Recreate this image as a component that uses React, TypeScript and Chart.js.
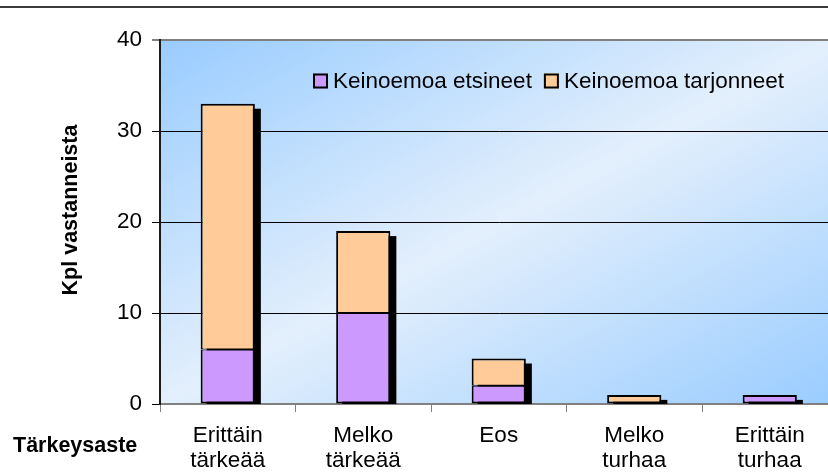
import React, { useEffect, useRef } from "react";
import { Chart, registerables } from "chart.js";

Chart.register(...registerables);

// ---- data ----
const categories: string[][] = [
  ["Erittäin", "tärkeää"],
  ["Melko", "tärkeää"],
  ["Eos"],
  ["Melko", "turhaa"],
  ["Erittäin", "turhaa"],
];
const seriesLabels = ["Keinoemoa etsineet", "Keinoemoa tarjonneet"];
const etsineet = [6, 10, 2, 0, 1];
const tarjonneet = [27, 9, 3, 1, 0];
const yMin = 0;
const yMax = 40;
const yStep = 10;
const xTitle = "Tärkeysaste";
const yTitle = "Kpl vastanneista";

const FONT = '"Liberation Sans", Arial, sans-serif';
const colors = ["#CC99FF", "#FFCC99"];

const bgPlugin = {
  id: "bgGradient",
  beforeDraw(chart: any) {
    const { ctx, chartArea } = chart;
    const { left, top, right, bottom } = chartArea;
    ctx.save();
    ctx.translate(left, top);
    ctx.scale(right - left, bottom - top);
    const g = ctx.createLinearGradient(0, 0, 1, 1);
    g.addColorStop(0, "#99CCFF");
    g.addColorStop(0.5, "#E3EFFC");
    g.addColorStop(1, "#99CCFF");
    ctx.fillStyle = g;
    ctx.fillRect(0, 0, 1, 1);
    ctx.restore();
    // top rule of the page
    ctx.save();
    ctx.fillStyle = "#3a3a3a";
    ctx.fillRect(0, 6, chart.width, 2);
    ctx.restore();
  },
};

const shadowPlugin = {
  id: "stackShadow",
  beforeDatasetsDraw(chart: any) {
    const { ctx, chartArea } = chart;
    const y = chart.scales.y;
    const meta = chart.getDatasetMeta(0);
    ctx.save();
    ctx.beginPath();
    ctx.rect(chartArea.left, chartArea.top, chartArea.right - chartArea.left, chartArea.bottom - chartArea.top);
    ctx.clip();
    ctx.fillStyle = "#000";
    meta.data.forEach((bar: any, i: number) => {
      const total = chart.data.datasets.reduce((s: number, ds: any) => s + (ds.data[i] || 0), 0);
      if (!total) return;
      const yTop = y.getPixelForValue(total);
      const yBase = y.getPixelForValue(0);
      const w = bar.width;
      ctx.fillRect(bar.x - w / 2 + 6, yTop + 5, w, yBase - yTop);
    });
    ctx.restore();
  },
};

const legendPlugin = {
  id: "customLegend",
  afterDraw(chart: any) {
    const { ctx } = chart;
    ctx.save();
    ctx.font = `22.5px ${FONT}`;
    ctx.textBaseline = "middle";
    let x = 313;
    const yc = 81;
    chart.data.datasets.forEach((ds: any) => {
      ctx.fillStyle = ds.backgroundColor;
      ctx.fillRect(x, yc - 7.5, 15, 15);
      ctx.lineWidth = 2;
      ctx.strokeStyle = "#000";
      ctx.strokeRect(x + 1, yc - 6.5, 13, 13);
      ctx.fillStyle = "#000";
      ctx.fillText(ds.label, x + 20, yc + 1);
      x += 20 + ctx.measureText(ds.label).width + 12;
    });
    ctx.restore();
  },
};

const titlesPlugin = {
  id: "axisTitles",
  afterDraw(chart: any) {
    const { ctx, chartArea } = chart;
    ctx.save();
    ctx.fillStyle = "#000";
    ctx.font = `bold 21.5px ${FONT}`;
    ctx.textBaseline = "alphabetic";
    ctx.textAlign = "left";
    ctx.fillText(xTitle, 13, 452);
    ctx.translate(77, 210);
    ctx.rotate(-Math.PI / 2);
    ctx.textAlign = "center";
    ctx.fillText(yTitle, 0, 0);
    ctx.restore();
  },
};

export default function App() {
  const ref = useRef<HTMLCanvasElement | null>(null);

  useEffect(() => {
    if (!ref.current) return;
    const bw = (own: number[], other: number[]) => (c: any) => {
      const i = c.dataIndex;
      return { left: 2, right: 2, top: 2, bottom: 2 };
    };
    const chart = new Chart(ref.current, {
      type: "bar",
      data: {
        labels: categories,
        datasets: [
          {
            label: seriesLabels[0],
            data: etsineet,
            backgroundColor: colors[0],
            borderColor: "#000",
            borderWidth: (c: any) => {
              const i = c.dataIndex;
              return { left: 2, right: 2, bottom: 2, top: tarjonneet[i] ? 1 : 2 };
            },
            borderSkipped: false,
            barPercentage: 0.4,
            categoryPercentage: 1,
          },
          {
            label: seriesLabels[1],
            data: tarjonneet,
            backgroundColor: colors[1],
            borderColor: "#000",
            borderWidth: (c: any) => {
              const i = c.dataIndex;
              return { left: 2, right: 2, top: 2, bottom: etsineet[i] ? 1 : 2 };
            },
            borderSkipped: false,
            barPercentage: 0.4,
            categoryPercentage: 1,
          },
        ],
      },
      options: {
        animation: false,
        responsive: false,
        maintainAspectRatio: false,
        layout: { padding: { left: 0, right: 10.5, top: 40, bottom: 0 } },
        plugins: {
          legend: { display: false },
          tooltip: { enabled: false },
          title: { display: false },
        },
        scales: {
          x: {
            stacked: true,
            grid: {
              offset: true,
              drawOnChartArea: false,
              drawTicks: true,
              tickLength: 8,
              tickColor: "#808080",
              tickWidth: 1,
            },
            border: { color: "#808080", width: 2 },
            ticks: {
              color: "#000",
              font: { family: FONT, size: 22.5, lineHeight: 1.12 },
              padding: 11,
              maxRotation: 0,
              minRotation: 0,
              autoSkip: false,
            },
            afterFit: (s: any) => {
              s.height = 69;
            },
          },
          y: {
            stacked: true,
            min: yMin,
            max: yMax,
            ticks: {
              stepSize: yStep,
              color: "#000",
              font: { family: FONT, size: 22.5 },
              padding: 10,
            },
            grid: {
              color: (c: any) =>
                c.tick && c.tick.value === yMax
                  ? "#808080"
                  : c.tick && c.tick.value === yMin
                  ? "rgba(0,0,0,0)"
                  : "#000",
              lineWidth: (c: any) => (c.tick && c.tick.value === yMax ? 2 : 1),
              drawTicks: true,
              tickLength: 8,
              tickColor: "#000",
              tickWidth: 1,
            },
            border: { color: "#1a1a1a", width: 2 },
            afterFit: (s: any) => {
              s.width = 160;
            },
          },
        },
      },
      plugins: [bgPlugin, shadowPlugin, legendPlugin, titlesPlugin],
    });
    return () => chart.destroy();
  }, []);

  return (
    <div
      style={{
        position: "fixed",
        left: 0,
        top: 0,
        width: 828,
        height: 473,
        overflow: "hidden",
        background: "#fff",
      }}
    >
      <canvas ref={ref} width={848} height={473} style={{ display: "block" }} />
    </div>
  );
}
